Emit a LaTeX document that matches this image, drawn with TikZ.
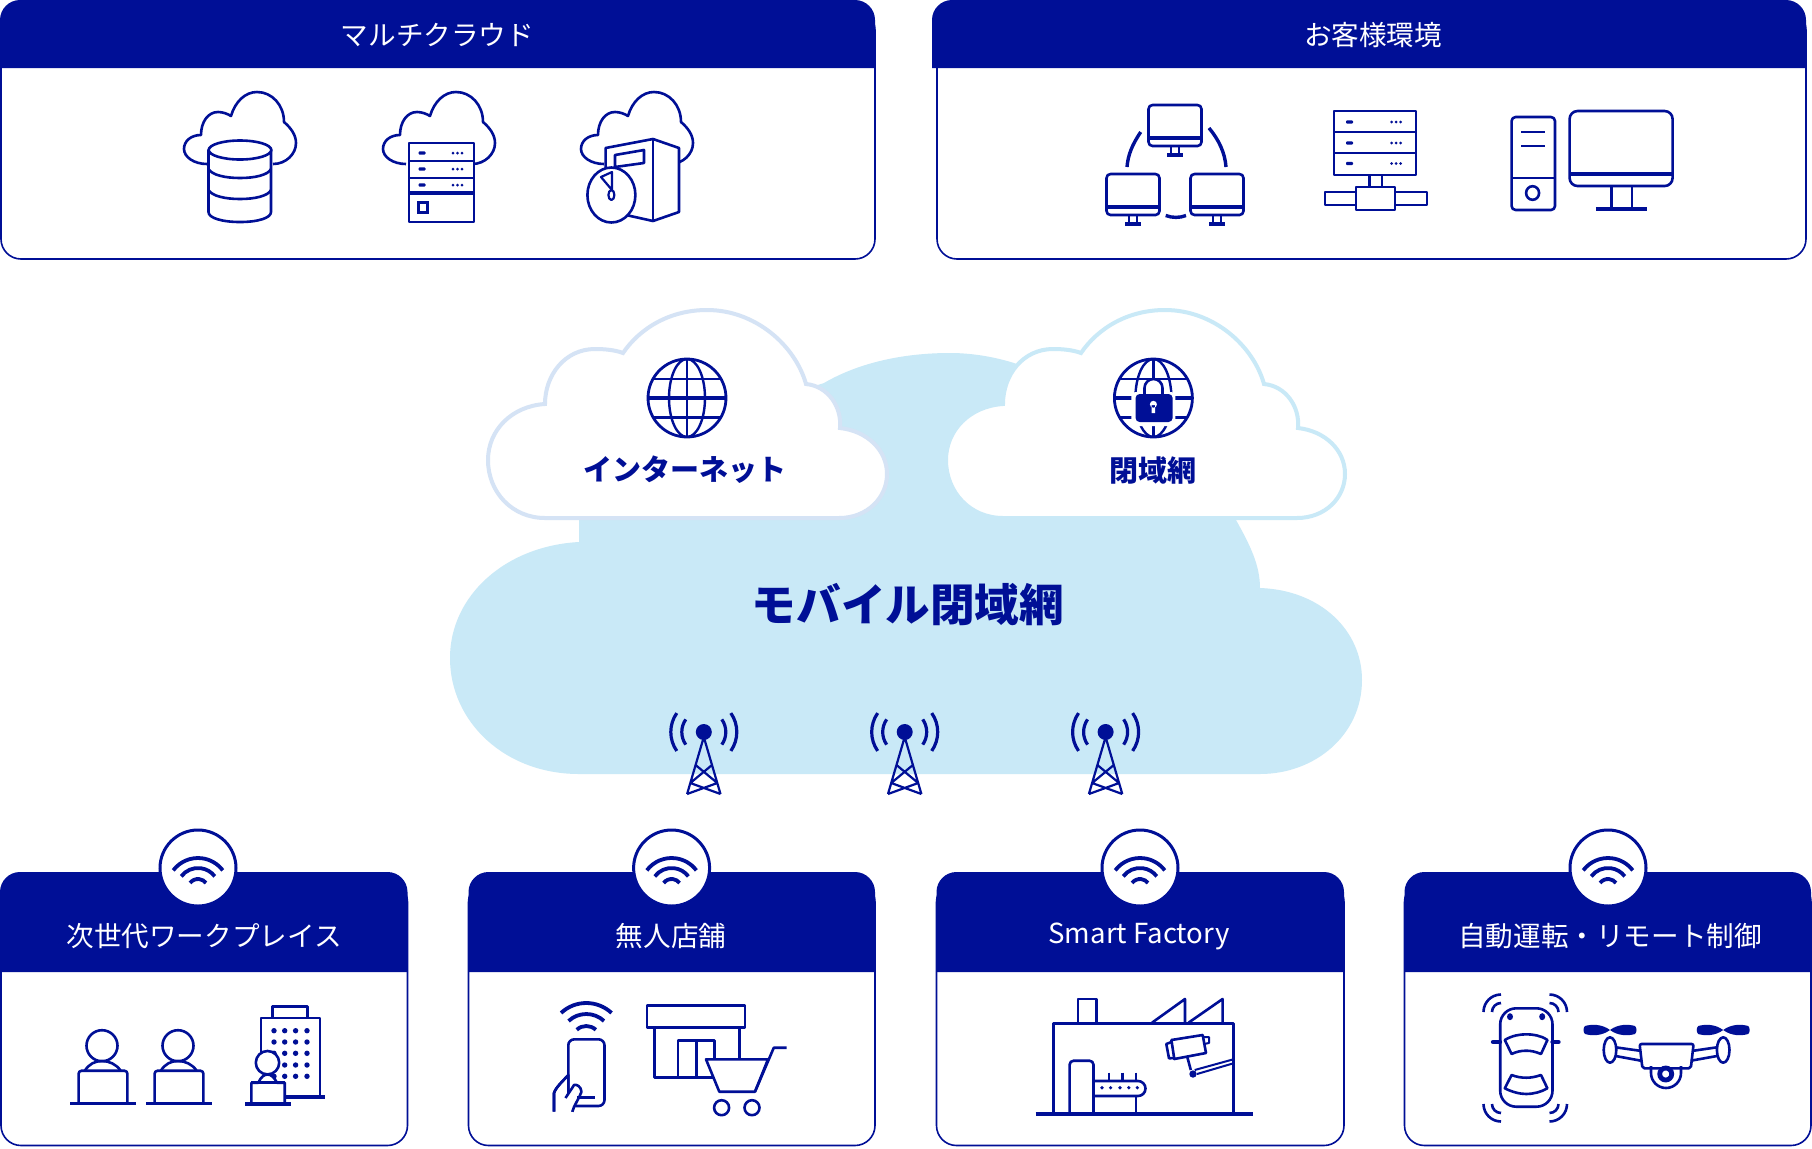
\documentclass[tikz,border=0pt]{standalone}
\usepackage{fontspec}
\setmainfont{Noto Sans CJK JP}
\definecolor{navy}{HTML}{000F96}
\definecolor{skyfill}{HTML}{C9E9F7}
\definecolor{netline}{HTML}{D5E3F5}
\tikzset{
  ico/.style={draw=navy,line width=1.3pt,line join=round},
  icow/.style={ico,fill=white},
  solid navy/.style={fill=navy,draw=none},
  headtext/.style={text=white,font=\fontsize{13.8}{16}\selectfont,inner sep=0pt},
  cloudtext/.style={text=navy,font=\fontsize{14.5}{17}\selectfont\bfseries,inner sep=0pt},
}
% panel: x1 x2 (box), xh (header left), yTop, yHead, yBottom
\newcommand{\panelbox}[6]{%
  \draw[navy,fill=white,line width=.8pt,rounded corners=10pt] (#1,#4+10) rectangle (#2,#6);
  \fill[navy] (#3,#5) [rounded corners=10pt] -- (#3,#4) -- (#2,#4) [sharp corners] -- (#2,#5) -- cycle;
}
\newcommand{\wifiarcs}[6]{% cx cy r1 r2 r3 halfangle
  \foreach \rr in {#3,#4,#5}{
    \draw[navy,line width=1.9pt] (#1,#2) ++(-90-#6:\rr) arc[start angle=-90-#6,end angle=-90+#6,radius=\rr];
  }
}
\newcommand{\wifibadge}[1]{%
  \draw[navy,fill=white,line width=1.5pt] (#1,868) circle[radius=38];
  \wifiarcs{#1}{889}{31}{21}{10}{53}
}
\newcommand{\mast}[1]{%
  \begin{scope}[shift={(#1,732)}]
    \fill[navy] (0,0) circle[radius=8];
    \draw[navy,line width=1.1pt,line join=round] (-16.7,62) -- (0,5) -- (16.7,62) (-8.2,33) -- (13.5,51) (8.2,33) -- (-13.5,51) (-13.5,51) -- (16.7,62) (13.5,51) -- (-16.7,62);
    \foreach \rr in {22,33}{
      \draw[navy,line width=1.6pt] (0,0) ++(145:\rr) arc[start angle=145,end angle=215,radius=\rr];
      \draw[navy,line width=1.6pt] (0,0) ++(-35:\rr) arc[start angle=-35,end angle=35,radius=\rr];
    }
  \end{scope}
}
\newcommand{\minicloud}[1]{%
  \begin{scope}[shift={(#1,0)}]
    \draw[ico] (207,164) .. controls (194,164) and (184,157) .. (184,149) .. controls (184,141) and (191,135) .. (201,135) .. controls (201,122) and (208,112) .. (218,112) .. controls (223,112) and (228,114) .. (231,116) .. controls (235,102) and (245,92) .. (257,92) .. controls (272,92) and (284,105) .. (284,122) .. controls (291,128) and (296,135) .. (296,143) .. controls (296,154) and (286,164) .. (273,164);
  \end{scope}
}
\newcommand{\srvmark}[3]{% xdash xdots y
  \fill[navy,rounded corners=.5pt] (#1-3.5,#3-1.6) rectangle (#1+3.5,#3+1.6);
  \foreach \dd in {-4.5,0,4.5}{\fill[navy] (#2+\dd,#3) circle[radius=1.5];}
}
\newcommand{\monitor}[2]{% cx top
  \begin{scope}[shift={(#1,#2)}]
    \draw[ico,rounded corners=2pt] (-26.5,0) rectangle (26.5,41);
    \draw[navy,line width=1.6pt] (-26.5,33) -- (26.5,33);
    \draw[navy,line width=1.1pt] (-4,41) -- (-4,49) (4,41) -- (4,49);
    \draw[navy,line width=1.6pt] (-8,50) -- (8,50);
  \end{scope}
}
\newcommand{\person}[1]{%
  \begin{scope}[shift={(#1,0)}]
    \draw[ico] (102,1045.7) ellipse[x radius=15.5,y radius=15.5];
    \draw[ico] (85,1070.5) .. controls (89,1064) and (95,1061) .. (102,1061) .. controls (109,1061) and (116,1064) .. (120.5,1070.5);
    \draw[ico,rounded corners=1.5pt] (78.6,1103) -- (78.6,1070.7) -- (127.4,1070.7) -- (127.4,1103);
    \draw[navy,line width=1.6pt] (70,1103.7) -- (135.5,1103.7);
  \end{scope}
}
\newcommand{\sensor}[3]{% cx cy startangle
  \foreach \rr in {9,17.5}{
    \draw[navy,line width=1.3pt] (#1,#2) ++(#3:\rr) arc[start angle=#3,delta angle=90,radius=\rr];
  }
}
\newcommand{\propblade}[1]{%
  \fill[navy] (#1,1030) .. controls (#1-8,1024) and (#1-18,1024) .. (#1-25,1026) .. controls (#1-27,1028) and (#1-27,1032) .. (#1-25,1034) .. controls (#1-18,1036) and (#1-8,1036) .. (#1,1030)
    .. controls (#1+8,1024) and (#1+18,1024) .. (#1+25,1026) .. controls (#1+27,1028) and (#1+27,1032) .. (#1+25,1034) .. controls (#1+18,1036) and (#1+8,1036) .. (#1,1030);
}
\newcommand{\cloudpath}{(545,518) .. controls (512,518) and (488,492) .. (488,460) .. controls (488,430) and (512,406) .. (545,404) .. controls (545,375) and (565,349) .. (595,349) .. controls (605,349) and (615,350) .. (623,353) .. controls (640,328) and (670,310) .. (707,310) .. controls (755,310) and (795,345) .. (806,384) .. controls (828,386) and (842,407) .. (840,428) .. controls (867,431) and (887,450) .. (887,474) .. controls (887,498) and (867,518) .. (839,518) -- cycle}
\begin{document}
\begin{tikzpicture}[x=.5pt,y=-.5pt]
\useasboundingbox (0,0) rectangle (1812,1148);
\fill[white] (0,0) rectangle (1812,1148);

% ---------- top panels
\panelbox{1}{875}{0}{0}{68}{259}
\panelbox{937}{1806}{932}{0}{68}{259}
\node[headtext] (hMulti) at (437.5,35) {マルチクラウド};
\node[headtext] (hCustomer) at (1373,35) {お客様環境};

% cloud + database
\minicloud{0}\minicloud{199}\minicloud{397}
\draw[icow] (208.5,150) -- (208.5,212) .. controls (208.5,218) and (222,222) .. (240,222) .. controls (258,222) and (271,218) .. (271,212) -- (271,150) -- cycle;
\draw[icow] (240,150) ellipse[x radius=31.3,y radius=9.5];
\draw[ico] (208.5,169) .. controls (212,175) and (225,178) .. (240,178) .. controls (255,178) and (268,175) .. (271,169);
\draw[ico] (208.5,190) .. controls (212,196) and (225,199) .. (240,199) .. controls (255,199) and (268,196) .. (271,190);

% cloud + server
\draw[icow] (409,143) rectangle (474,222);
\draw[ico] (409,161) -- (474,161) (409,178) -- (474,178);
\draw[navy,line width=1.7pt] (409,193) -- (474,193);
\srvmark{422}{457.5}{153}\srvmark{422}{457.5}{169}\srvmark{422}{457.5}{185}
\draw[navy,line width=1.5pt] (418.5,202) rectangle (427.5,212);

% cloud + tower + clock
\draw[icow] (605.6,175) -- (605.6,148) -- (653,139) -- (679,148) -- (679,212) -- (653,221) -- (626,215) -- cycle;
\draw[ico] (653,139) -- (653,221);
\draw[ico] (615,170) -- (615,155) -- (644,150) -- (644,163) -- (615,167);
\draw[icow] (611.4,195) ellipse[x radius=24,y radius=27.5];
\draw[ico,line width=1.1pt] (601,177) -- (612,172) -- (612,190) -- cycle;
\draw[ico,line width=1.1pt,fill=white] (611.4,195) ellipse[x radius=3,y radius=5];

% networked monitors
\monitor{1175}{105}\monitor{1133}{174}\monitor{1217}{174}
\draw[navy,line width=1.7pt] (1140.7,132) .. controls (1132,145) and (1128,155) .. (1127,167);
\draw[navy,line width=1.7pt] (1209,128) .. controls (1219,140) and (1225,153) .. (1226,167);
\draw[navy,line width=1.7pt] (1165.7,215.5) .. controls (1172,218) and (1180,218) .. (1186,215.5);

% server with network
\draw[ico] (1334,111) rectangle (1416,175);
\draw[ico] (1334,132) -- (1416,132) (1334,153) -- (1416,153);
\srvmark{1349.5}{1396}{122}\srvmark{1349.5}{1396}{143}\srvmark{1349.5}{1396}{163.5}
\draw[ico] (1369.4,175) -- (1369.4,187) (1382,175) -- (1382,187);
\draw[ico] (1356,187) rectangle (1395,210);
\draw[ico] (1356,192) -- (1325,192) -- (1325,205) -- (1356,205);
\draw[ico] (1395,192) -- (1427,192) -- (1427,205) -- (1395,205);

% desktop PC
\draw[ico,rounded corners=2pt] (1511.6,117) rectangle (1555,210);
\draw[ico] (1511.6,178) -- (1555,178);
\draw[ico] (1521,132) -- (1544.6,132) (1521,146) -- (1544.6,146);
\draw[ico] (1532.6,193) ellipse[x radius=6.5,y radius=6.8];
\draw[ico,rounded corners=4pt] (1569.6,111) rectangle (1672.6,186);
\draw[navy,line width=1.7pt] (1569.6,174) -- (1672.6,174);
\draw[ico] (1611.7,186) -- (1611.7,209) (1632,186) -- (1632,209);
\draw[navy,line width=1.7pt] (1595.8,209) -- (1647,209);

% ---------- central clouds
\fill[skyfill] (579,774) .. controls (505,774) and (450,722) .. (450,658) .. controls (450,596) and (505,546) .. (579,542) -- (579,515) -- (650,440) -- (824,383) .. controls (860,362) and (905,353) .. (950,353) .. controls (975,353) and (1000,358) .. (1020,365) -- (1200,450) -- (1236,520) .. controls (1250,545) and (1260,565) .. (1260,588) .. controls (1320,590) and (1362,630) .. (1362,680) .. controls (1362,735) and (1315,774) .. (1260,774) -- cycle;
\draw[fill=white,draw=netline,line width=2pt] \cloudpath;
\begin{scope}[shift={(458,0)}]
  \draw[fill=white,draw=skyfill,line width=2pt] \cloudpath;
\end{scope}

% globe
\begin{scope}[shift={(687,398)}]
  \clip (0,0) circle[radius=39];
  \draw[navy,line width=1.2pt] (-40,-19) -- (40,-19) (-40,19.5) -- (40,19.5) (0,-40) -- (0,40);
  \draw[navy,line width=1.7pt] (-40,0) -- (40,0);
  \draw[navy,line width=1.2pt] (0,0) ellipse[x radius=18,y radius=39];
\end{scope}
\draw[navy,line width=1.4pt] (687,398) circle[radius=39];
% locked globe
\begin{scope}[shift={(1153.4,398)}]
  \clip (0,0) circle[radius=39];
  \draw[navy,line width=1.2pt] (-40,-19) -- (40,-19) (-40,19.5) -- (40,19.5) (0,-40) -- (0,40);
  \draw[navy,line width=1.7pt] (-40,0) -- (40,0);
  \draw[navy,line width=1.2pt] (0,0) ellipse[x radius=18,y radius=39];
  \draw[white,fill=white,line width=3pt] (-14,-2) arc[start angle=180,end angle=360,radius=14] -- (14,-2) -- cycle;
  \fill[white,rounded corners=2pt] (-22,-6) rectangle (22,28);
\end{scope}
\draw[navy,line width=1.4pt] (1153.4,398) circle[radius=39];
\draw[navy,line width=1.3pt] (1144.5,396) -- (1144.5,388) arc[start angle=180,end angle=360,radius=9] -- (1162.5,396);
\fill[navy,rounded corners=2pt] (1135.6,394) rectangle (1172.6,422);
\fill[white] (1153.4,404.3) circle[radius=3.5] (1151.6,405) rectangle (1155.2,413);

\node[cloudtext] (tInternet) at (685,470) {インターネット};
\node[cloudtext] (tClosed) at (1153,470) {閉域網};
\node[cloudtext,font=\fontsize{22.3}{26}\selectfont\bfseries] (tMobile) at (908,605) {モバイル閉域網};
\mast{703.8}\mast{904.7}\mast{1105.6}

% ---------- bottom panels
\panelbox{1}{407.5}{0}{872}{972}{1145.5}
\panelbox{468.5}{875}{468.5}{872}{972}{1145.5}
\panelbox{936.5}{1344}{936.5}{872}{972}{1145.5}
\panelbox{1404.5}{1811}{1404.5}{872}{972}{1145.5}
\wifibadge{198}\wifibadge{671.6}\wifibadge{1140}\wifibadge{1608}
\node[headtext] (hWork) at (204,936) {次世代ワークプレイス};
\node[headtext] (hStore) at (671,936) {無人店舗};
\node[headtext] (hFactory) at (1139,936) {Smart Factory};
\node[headtext] (hAuto) at (1610,936) {自動運転・リモート制御};

% workplace
\person{0}\person{76}
\draw[ico] (272.7,1018) -- (272.7,1006.7) -- (307.7,1006.7) -- (307.7,1018);
\draw[ico] (261,1062) -- (261,1018) -- (320,1018) -- (320,1097);
\draw[navy,line width=1.6pt] (284,1097) -- (325,1097);
\foreach \wx in {274,284.7,295.6,307}{\foreach \wy in {1030.7,1042,1053.3,1065,1076.3}{\fill[navy] (\wx,\wy) circle[radius=2.7];}}
\draw[icow] (267.5,1062.7) circle[radius=11.7];
\draw[icow] (251.4,1103) -- (251.4,1082.7) -- (258.3,1082.7) .. controls (261,1077) and (264,1074.5) .. (267.5,1074.5) .. controls (271,1074.5) and (274,1077) .. (277,1082.7) -- (284.7,1082.7) -- (284.7,1103);
\draw[ico] (251.4,1082.7) -- (284.7,1082.7);
\draw[navy,line width=1.6pt] (245,1104) -- (291,1104);

% store: phone
\wifiarcs{586.3}{1040}{37}{26}{14}{43}
\draw[ico,rounded corners=3pt] (568.3,1039.3) rectangle (604.5,1106);
\draw[icow] (554,1111.7) -- (554,1093) .. controls (556,1087) and (563,1081) .. (568.3,1075) -- (568.3,1106) -- (572.3,1106) -- (572.3,1111.7);
\fill[white] (556,1094) rectangle (572,1111);
\draw[ico] (554,1111.7) -- (554,1093) .. controls (556,1087) and (563,1081) .. (568.3,1075);
\draw[icow] (572.3,1111.7) .. controls (574,1105) and (579,1099) .. (581.5,1091.7) .. controls (581,1086) and (576,1084) .. (574,1085) .. controls (571,1090) and (568,1094) .. (565.5,1098);
\draw[ico] (577,1097.7) -- (595,1097.7);
% store
\draw[ico] (647,1005.3) rectangle (745,1027.3);
\draw[ico] (654.4,1027.3) -- (654.4,1077.7) -- (716,1077.7);
\draw[ico] (739.4,1027.3) -- (739.4,1059.3);
\draw[ico] (678,1077.7) -- (678,1040.7) -- (714.7,1040.7) -- (714.7,1059.3);
\draw[ico] (696.3,1040.7) -- (696.3,1077.7);
% cart
\draw[icow] (706,1059.3) -- (768,1059.3) -- (755,1091.7) -- (719.3,1091.7) -- cycle;
\draw[ico] (755,1091.7) -- (773.8,1047.7) -- (786.5,1047.7);
\draw[ico] (721.6,1107.7) circle[radius=7.5];
\draw[ico] (752,1107.7) circle[radius=7.5];

% factory
\draw[ico] (1053.7,1113) -- (1053.7,1023.3) -- (1233.4,1023.3) -- (1233.4,1113);
\draw[ico] (1078,1023) -- (1078,999) -- (1096.3,999) -- (1096.3,1023);
\draw[ico] (1152,1022.7) -- (1185,999) -- (1185,1022.7);
\draw[ico] (1188.5,1022.7) -- (1222.6,999) -- (1222.6,1022.7);
\draw[navy,line width=2pt] (1035.5,1113.7) -- (1252.8,1113.7);
\draw[ico,rounded corners=2pt] (1069.6,1113) -- (1069.6,1060.7) -- (1093.5,1060.7) -- (1093.5,1113);
\draw[ico] (1093.5,1081) -- (1138,1081) arc[start angle=-90,end angle=90,radius=7.5] -- (1093.5,1096);
\foreach \dx in {1102,1110.6,1120,1128.8,1137.3}{\fill[navy] (\dx,1087.7) circle[radius=1.8];}
\foreach \tx in {1108.8,1122.5,1136}{\draw[ico] (\tx,1072.7) -- (\tx,1081);}
\draw[ico] (1136,1096) -- (1136,1113);
% camera
\draw[ico] (1171.4,1040) -- (1202.7,1035) -- (1206,1053) -- (1174.3,1059) -- cycle;
\draw[ico] (1171.4,1042) -- (1166.3,1044) -- (1169,1058.3) -- (1174.3,1058);
\draw[ico,line width=1pt] (1203,1037) -- (1209,1037) -- (1209,1043) -- (1204,1044);
\draw[ico] (1187.3,1057) -- (1190.8,1070);
\fill[navy] (1193,1074) circle[radius=3.7];
\draw[ico,line width=1pt] (1194.7,1070) -- (1233.4,1059.3) (1197,1074) -- (1233.4,1063.3);

% car
\draw[ico,rounded corners=8pt] (1500.2,1008.3) rectangle (1552.5,1106.7);
\draw[ico] (1504.8,1040) .. controls (1512,1035.5) and (1520,1034.3) .. (1526.4,1034.3) .. controls (1533,1034.3) and (1541,1035.5) .. (1547.4,1040) -- (1541,1054) .. controls (1535,1051.5) and (1531,1050.7) .. (1526.4,1050.7) .. controls (1521,1050.7) and (1517,1051.5) .. (1511.6,1054) -- cycle;
\draw[ico] (1511.6,1075) .. controls (1517,1077) and (1521,1077.7) .. (1526.4,1077.7) .. controls (1531,1077.7) and (1535,1077) .. (1541,1075) -- (1547.4,1088.3) .. controls (1541,1092) and (1533,1094) .. (1526.4,1094) .. controls (1520,1094) and (1512,1092) .. (1504.8,1088.3) -- cycle;
\fill[navy] (1510,1016.7) ellipse[x radius=3,y radius=3.5] (1542.2,1016.7) ellipse[x radius=3,y radius=3.5];
\draw[navy,line width=2.2pt,line cap=round] (1493,1042) -- (1500,1042) (1552.5,1042) -- (1558.5,1042);
\sensor{1501}{1012}{180}
\sensor{1549.5}{1012}{-90}
\sensor{1501}{1104}{90}
\sensor{1549.5}{1104}{0}

% drone
\propblade{1610}\propblade{1723.2}
\draw[ico] (1610,1050) ellipse[x radius=6.3,y radius=12.7];
\draw[ico] (1723.2,1050) ellipse[x radius=6.3,y radius=12.7];
\draw[ico] (1615.6,1047.3) -- (1639.6,1050.7) (1615.6,1056) -- (1641,1060.7);
\draw[ico] (1693.6,1050.7) -- (1717,1047.3) (1690.8,1060.7) -- (1717,1056);
\draw[icow] (1651,1066) -- (1651,1073) arc[start angle=180,end angle=0,radius=15] -- (1681,1066);
\draw[ico,rounded corners=1pt] (1639.6,1044) -- (1693.6,1044) -- (1690.8,1068.3) -- (1642.4,1068.3) -- cycle;
\draw[navy,line width=2.4pt,fill=white] (1665.7,1074) circle[radius=6];
\end{tikzpicture}
\end{document}
